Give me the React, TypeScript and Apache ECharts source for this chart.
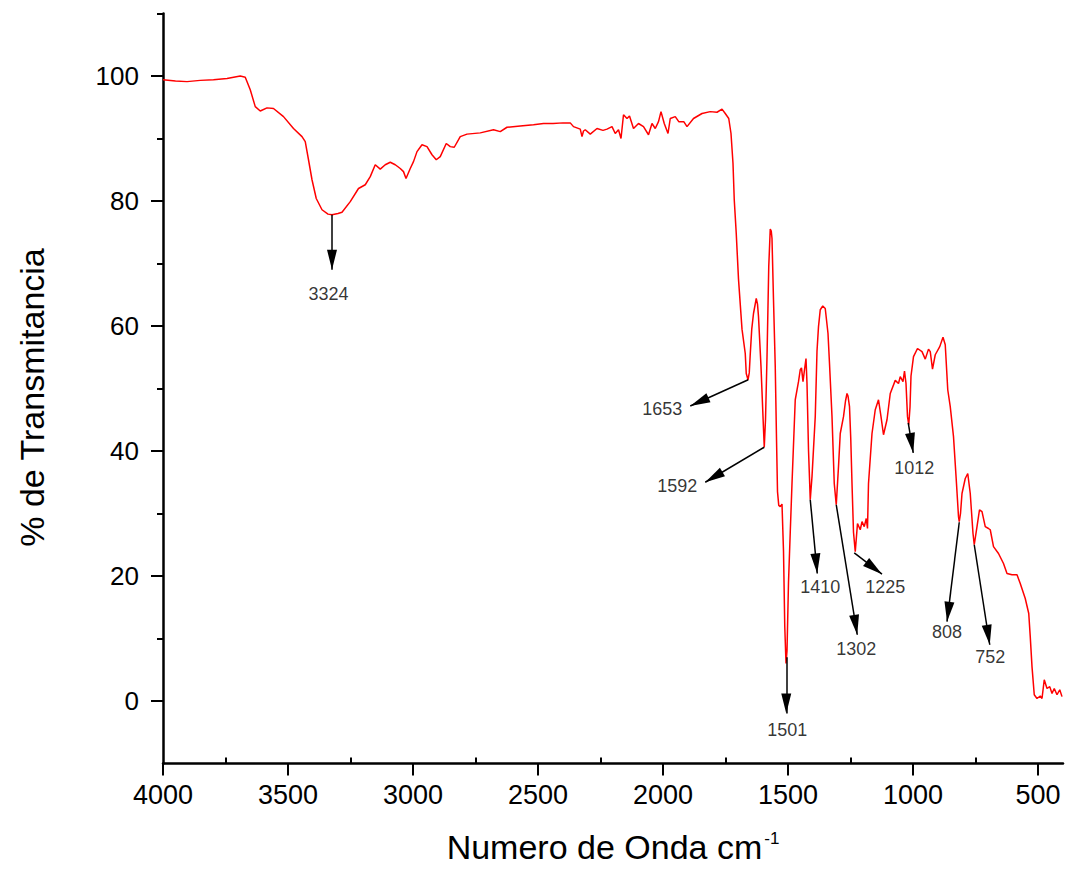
import React, { useEffect, useRef } from "react";
import * as echarts from "echarts";

// Spectrum (wavenumber cm^-1, % transmittance)
const wavenumber = [
  4000, 3950, 3904, 3851, 3798, 3744, 3691, 3671, 3651, 3631, 3611, 3584, 3558, 3518, 3478, 3444, 3431, 3418, 3404, 3387,
  3364, 3340, 3324, 3300, 3284, 3251, 3218, 3191, 3171, 3151, 3131, 3111, 3091, 3071, 3051, 3038, 3028, 3011, 2998, 2984,
  2964, 2944, 2924, 2907, 2891, 2867, 2851, 2835, 2811, 2784, 2731, 2678, 2651, 2624, 2571, 2518, 2478, 2440, 2400, 2371,
  2358, 2331, 2324, 2318, 2311, 2291, 2264, 2240, 2224, 2204, 2191, 2178, 2168, 2158, 2144, 2134, 2118, 2098, 2078, 2058,
  2044, 2031, 2018, 2008, 1995, 1980, 1971, 1951, 1937, 1917, 1904, 1878, 1844, 1811, 1784, 1764, 1751, 1737, 1728, 1720,
  1715, 1711, 1707, 1698, 1684, 1671, 1667, 1660, 1655, 1651, 1645, 1638, 1627, 1622, 1618, 1608, 1600, 1595, 1590, 1584,
  1577, 1571, 1567, 1564, 1558, 1551, 1546, 1542, 1537, 1531, 1524, 1518, 1513, 1508, 1504, 1498, 1491, 1484, 1471, 1458,
  1451, 1446, 1440, 1434, 1428, 1424, 1418, 1411, 1404, 1391, 1384, 1378, 1371, 1361, 1351, 1340, 1334, 1324, 1315, 1307,
  1298, 1291, 1278, 1270, 1264, 1260, 1254, 1249, 1244, 1238, 1231, 1222, 1211, 1204, 1195, 1187, 1182, 1178, 1164, 1151,
  1138, 1128, 1118, 1104, 1091, 1071, 1058, 1051, 1040, 1034, 1028, 1022, 1017, 1012, 1008, 998, 982, 964, 951, 938,
  931, 922, 911, 893, 880, 871, 861, 851, 838, 827, 818, 815, 810, 804, 791, 781, 771, 760, 755, 744,
  734, 724, 711, 698, 691, 678, 658, 638, 624, 604, 584, 571, 551, 537, 531, 524, 515, 504, 491, 484,
  475, 464, 453, 444, 435, 424, 413, 404,
];

const transmittance = [
  99.4, 99.2, 99.1, 99.3, 99.4, 99.6, 100.0, 99.8, 97.8, 95.1, 94.4, 94.9, 94.8, 93.5, 91.6, 90.3, 89.5, 86.6, 83.4, 80.4,
  78.6, 77.9, 77.8, 78.0, 78.2, 79.9, 82.0, 82.6, 83.9, 85.8, 85.1, 85.8, 86.2, 85.8, 85.2, 84.7, 83.6, 85.2, 86.3, 87.9,
  89.0, 88.7, 87.4, 86.6, 87.1, 89.2, 88.7, 88.6, 90.3, 90.7, 90.9, 91.4, 91.1, 91.8, 92.0, 92.2, 92.4, 92.4, 92.5, 92.5,
  91.9, 91.5, 90.3, 91.2, 91.4, 90.7, 91.6, 91.3, 91.5, 91.9, 90.8, 91.4, 90.0, 93.8, 93.2, 93.6, 91.6, 92.4, 91.9, 90.6,
  92.4, 91.6, 92.7, 94.3, 92.4, 90.8, 93.2, 93.5, 92.7, 92.7, 91.9, 93.2, 94.0, 94.3, 94.2, 94.7, 94.0, 93.2, 90.8, 86.0,
  80.2, 77.5, 74.8, 67.5, 59.5, 55.6, 52.4, 51.4, 52.5, 55.5, 59.5, 62.0, 64.4, 63.5, 61.5, 53.5, 45.5, 40.6, 45.0, 55.0,
  69.5, 75.5, 75.2, 74.0, 64.2, 53.5, 42.0, 33.5, 31.3, 31.1, 31.5, 24.0, 12.0, 6.0, 8.0, 19.0, 27.0, 34.8, 48.2, 51.1,
  53.0, 53.3, 51.1, 53.0, 54.8, 50.8, 40.2, 32.2, 35.9, 45.5, 56.0, 59.9, 62.6, 63.2, 62.8, 58.8, 54.0, 45.5, 34.8, 31.4,
  37.5, 42.8, 45.5, 48.0, 49.2, 48.8, 47.1, 42.0, 34.8, 27.0, 23.9, 28.4, 27.4, 28.7, 27.9, 29.2, 27.6, 34.8, 42.8, 46.6,
  48.2, 45.5, 42.6, 45.0, 49.2, 51.3, 50.8, 51.9, 51.1, 52.8, 50.8, 45.5, 44.2, 47.0, 52.0, 55.1, 56.4, 55.9, 54.7, 56.3,
  55.9, 53.1, 55.4, 56.7, 58.2, 57.0, 49.8, 47.1, 42.3, 35.4, 29.5, 28.7, 30.0, 33.2, 35.6, 36.4, 33.2, 26.8, 25.0, 27.9,
  30.6, 30.3, 27.9, 27.6, 27.4, 24.7, 23.6, 22.0, 20.4, 20.2, 20.2, 18.8, 16.4, 14.0, 10.3, 5.5, 1.0, 0.4, 0.8, 0.4,
  3.4, 2.0, 2.3, 1.2, 2.0, 1.0, 1.8, 0.7,
];

// Peak annotations: label text, arrow start (on curve), arrow tip, label centre
const peakLabels = ["3324", "1653", "1592", "1501", "1410", "1302", "1225", "1012", "808", "752"];
const arrowFrom = [
  [3324, 77.8], [1659, 51.4], [1595, 40.6], [1507, 7.0], [1411, 32.2],
  [1307, 31.4], [1235, 23.7], [1019, 44.5], [815, 28.6], [755, 25.0],
];
const arrowTip = [
  [3324, 69.0], [1891, 47.2], [1831, 35.0], [1507, -2.0], [1383, 20.4],
  [1223, 10.6], [1124, 20.3], [999, 39.7], [864, 12.7], [693, 9.0],
];
const labelCenter = [
  [3338, 65.2], [2003, 46.7], [1943, 34.4], [1503, -4.6], [1371, 18.2],
  [1227, 8.4], [1111, 18.3], [995, 37.3], [864, 11.0], [691, 7.1],
];

const xMajorTicks = [4000, 3500, 3000, 2500, 2000, 1500, 1000, 500];
const xMinorTicks = [3750, 3250, 2750, 2250, 1750, 1250, 750];
const yMajorTicks = [0, 20, 40, 60, 80, 100];
const yMinorTicks = [10, 30, 50, 70, 90, 110];

const FONT = 'Arial, "Liberation Sans", sans-serif';

export default function App() {
  const ref = useRef<HTMLDivElement>(null);

  useEffect(() => {
    if (!ref.current) return;
    const chart = echarts.init(ref.current, null, { renderer: "svg" });

    const spectrum = wavenumber.map((w, i) => [w, transmittance[i]]);
    const arrows = peakLabels.map((_, i) => [
      { coord: arrowFrom[i] },
      { coord: arrowTip[i] },
    ]);
    const labels = peakLabels.map((t, i) => ({ name: t, value: labelCenter[i] }));

    const axisLineStyle = { color: "#000", width: 2.5 };
    const tickStyle = { color: "#000", width: 2 };

    chart.setOption({
      animation: false,
      backgroundColor: "#ffffff",
      grid: { left: 163, right: 2, top: 13.5, bottom: 118.5, containLabel: false },
      xAxis: [
        {
          type: "value",
          min: 400,
          max: 4000,
          inverse: true,
          position: "bottom",
          name: "Numero de Onda cm{sup|-1}",
          nameLocation: "middle",
          nameGap: 66,
          nameTextStyle: {
            fontSize: 34,
            color: "#000",
            fontFamily: FONT,
            rich: {
              sup: { fontSize: 17, color: "#000", fontFamily: FONT, verticalAlign: "top", padding: [0, 0, 18, 2] },
            },
          },
          axisLine: { show: true, onZero: false, lineStyle: axisLineStyle },
          axisTick: { show: true, length: 12, customValues: xMajorTicks, lineStyle: tickStyle },
          axisLabel: {
            show: true,
            customValues: xMajorTicks,
            formatter: (v: number) => String(v),
            fontSize: 27,
            color: "#000",
            fontFamily: FONT,
            margin: 18,
          },
          splitLine: { show: false },
        },
        {
          type: "value",
          min: 400,
          max: 4000,
          inverse: true,
          position: "bottom",
          axisLine: { show: false, onZero: false },
          axisTick: { show: true, inside: true, length: 6, customValues: xMinorTicks, lineStyle: tickStyle },
          axisLabel: { show: false },
          splitLine: { show: false },
        },
      ],
      yAxis: [
        {
          type: "value",
          min: -10,
          max: 110,
          position: "left",
          name: "% de Transmitancia",
          nameLocation: "middle",
          nameGap: 114,
          nameTextStyle: { fontSize: 34, color: "#000", fontFamily: FONT, padding: [0, 18, 0, 0] },
          axisLine: { show: true, onZero: false, lineStyle: axisLineStyle },
          axisTick: { show: true, length: 12, customValues: yMajorTicks, lineStyle: tickStyle },
          axisLabel: {
            show: true,
            customValues: yMajorTicks,
            formatter: (v: number) => String(v),
            fontSize: 26,
            color: "#000",
            fontFamily: FONT,
            margin: 24,
          },
          splitLine: { show: false },
        },
        {
          type: "value",
          min: -10,
          max: 110,
          position: "left",
          axisLine: { show: false, onZero: false },
          axisTick: { show: true, length: 6, customValues: yMinorTicks, lineStyle: tickStyle },
          axisLabel: { show: false },
          splitLine: { show: false },
        },
      ],
      series: [
        {
          type: "line",
          name: "Espectro IR",
          xAxisIndex: 0,
          yAxisIndex: 0,
          data: spectrum,
          symbol: "none",
          showSymbol: false,
          smooth: false,
          lineStyle: { color: "#ff0000", width: 1.5 },
          silent: true,
          markLine: {
            silent: true,
            symbol: ["none", "triangle"],
            symbolSize: [10, 20],
            symbolOffset: [[0, 0], [0, 10]],
            lineStyle: { color: "#000", width: 1.5, type: "solid" },
            itemStyle: { color: "#000" },
            label: { show: false },
            emphasis: { disabled: true },
            data: arrows,
          },
        },
        {
          type: "scatter",
          name: "Picos",
          xAxisIndex: 0,
          yAxisIndex: 0,
          data: labels,
          symbolSize: 0,
          silent: true,
          label: {
            show: true,
            position: "inside",
            formatter: "{b}",
            fontSize: 18,
            color: "#000",
            fontFamily: FONT,
          },
        },
      ],
    });

    return () => {
      chart.dispose();
    };
  }, []);

  return (
    <div
      ref={ref}
      style={{ position: "fixed", left: 0, top: 0, width: 1065, height: 882, background: "#fff" }}
    />
  );
}
